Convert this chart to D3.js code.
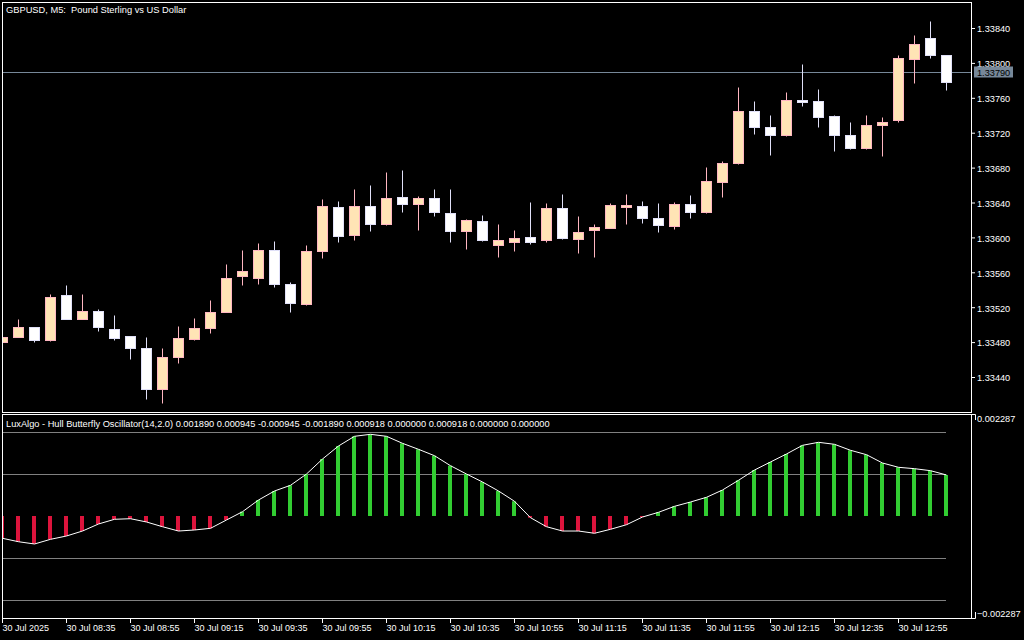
<!DOCTYPE html>
<html><head><meta charset="utf-8">
<script src="https://cdn.jsdelivr.net/npm/d3@7"></script>
<style>html,body{margin:0;padding:0;background:#000;overflow:hidden}
text{font-family:"Liberation Sans",Arial,sans-serif;font-size:9px;fill:#fff}</style>
</head><body><svg id="c" width="1024" height="640"></svg>
<script>
const times = ["08:15","08:20","08:25","08:30","08:35","08:40","08:45","08:50","08:55","09:00",
"09:05","09:10","09:15","09:20","09:25","09:30","09:35","09:40","09:45","09:50",
"09:55","10:00","10:05","10:10","10:15","10:20","10:25","10:30","10:35","10:40",
"10:45","10:50","10:55","11:00","11:05","11:10","11:15","11:20","11:25","11:30",
"11:35","11:40","11:45","11:50","11:55","12:00","12:05","12:10","12:15","12:20",
"12:25","12:30","12:35","12:40","12:45","12:50","12:55","13:00","13:05","13:10"];
const open = [1.33480,1.33486,1.33497,1.33482,1.33534,1.33507,1.33516,1.33495,1.33487,1.33473,
1.33426,1.33463,1.33484,1.33496,1.33515,1.33556,1.33554,1.33585,1.33547,1.33524,
1.33584,1.33635,1.33603,1.33636,1.33615,1.33646,1.33638,1.33645,1.33628,1.33607,
1.33619,1.33591,1.33595,1.33601,1.33597,1.33634,1.33598,1.33609,1.33611,1.33636,
1.33636,1.33622,1.33613,1.33638,1.33629,1.33664,1.33685,1.33745,1.33727,1.33717,
1.33758,1.33756,1.33739,1.33717,1.33703,1.33729,1.33734,1.33805,1.33829,1.33809];
const high = [1.33488,1.33507,1.33497,1.33535,1.33545,1.33535,1.33518,1.33511,1.33487,1.33486,
1.33473,1.33498,1.33508,1.33528,1.33569,1.33586,1.33594,1.33596,1.33549,1.33591,
1.33644,1.33642,1.33655,1.33660,1.33675,1.33677,1.33648,1.33656,1.33656,1.33621,
1.33626,1.33615,1.33608,1.33641,1.33639,1.33650,1.33625,1.33615,1.33639,1.33650,
1.33642,1.33639,1.33641,1.33649,1.33681,1.33688,1.33772,1.33756,1.33740,1.33767,
1.33799,1.33770,1.33740,1.33732,1.33740,1.33738,1.33809,1.33832,1.33848,1.33809];
const low = [1.33478,1.33486,1.33480,1.33481,1.33506,1.33506,1.33493,1.33482,1.33461,1.33415,
1.33410,1.33456,1.33482,1.33490,1.33514,1.33546,1.33547,1.33543,1.33515,1.33523,
1.33576,1.33595,1.33597,1.33607,1.33614,1.33629,1.33608,1.33625,1.33595,1.33587,
1.33596,1.33577,1.33584,1.33593,1.33595,1.33598,1.33582,1.33577,1.33611,1.33615,
1.33617,1.33606,1.33610,1.33622,1.33628,1.33646,1.33684,1.33718,1.33695,1.33716,
1.33751,1.33727,1.33699,1.33701,1.33701,1.33693,1.33732,1.33777,1.33806,1.33769];
const close = [1.33486,1.33497,1.33482,1.33532,1.33507,1.33516,1.33497,1.33485,1.33473,1.33426,
1.33463,1.33485,1.33496,1.33515,1.33554,1.33561,1.33585,1.33547,1.33525,1.33584,
1.33636,1.33602,1.33636,1.33615,1.33645,1.33638,1.33645,1.33629,1.33607,1.33620,
1.33597,1.33597,1.33599,1.33595,1.33634,1.33599,1.33606,1.33612,1.33637,1.33637,
1.33622,1.33614,1.33638,1.33629,1.33665,1.33685,1.33745,1.33726,1.33717,1.33758,
1.33756,1.33738,1.33717,1.33703,1.33729,1.33732,1.33806,1.33822,1.33809,1.33778];
const oscillator = [-0.000502,-0.000579,-0.000630,-0.000525,-0.000450,-0.000338,-0.000180,-0.000074,-0.000061,-0.000135,
-0.000241,-0.000338,-0.000315,-0.000277,-0.000090,0.000097,0.000360,0.000563,0.000691,0.000945,
0.001283,0.001576,0.001794,0.001839,0.001794,0.001636,0.001501,0.001357,0.001132,0.000945,
0.000765,0.000563,0.000331,-0.000038,-0.000241,-0.000338,-0.000338,-0.000389,-0.000299,-0.000196,
-0.000023,0.000083,0.000218,0.000315,0.000421,0.000585,0.000804,0.001035,0.001216,0.001396,
0.001591,0.001659,0.001614,0.001479,0.001380,0.001193,0.001096,0.001065,0.001020,0.000923];
const oscLevels = [0.001890, 0.000945, -0.000945, -0.001890];
const oscRange = [-0.002287, 0.002287];
const priceTicks = [1.33440,1.33480,1.33520,1.33560,1.33600,1.33640,1.33680,1.33720,1.33760,1.33800,1.33840];
const timeTicks = ["08:15","08:35","08:55","09:15","09:35","09:55","10:15","10:35","10:55","11:15","11:35","11:55","12:15","12:35","12:55"];
const dateLabel = "30 Jul";
const firstLabel = "30 Jul 2025";
const currentPrice = 1.33790;
const title = "GBPUSD, M5:  Pound Sterling vs US Dollar";
const oscTitle = "LuxAlgo - Hull Butterfly Oscillator(14,2.0) 0.001890 0.000945 -0.000945 -0.001890 0.000918 0.000000 0.000918 0.000000 0.000000";

const bars = times.map((t,i)=>({t, o:open[i], h:high[i], l:low[i], c:close[i], v:oscillator[i]}));

const svg = d3.select('#c');
svg.append('rect').attr('width',1024).attr('height',640).attr('fill','#000');

const x = d3.scalePoint().domain(times).range([2, 946]);
const yP = d3.scaleLinear().domain([1.33440, 1.33840]).range([377, 28]);
const yO = d3.scaleLinear().domain(oscRange).range([617.6, 414.4]);
const px = t => x(t) + 0.5;
const py = v => Math.round(yP(v)) + 0.5;

const defs = svg.append('defs');
defs.append('clipPath').attr('id','cm').append('rect').attr('x',3).attr('y',3).attr('width',968).attr('height',409);
defs.append('clipPath').attr('id','co').append('rect').attr('x',3).attr('y',415).attr('width',968).attr('height',203);

// main panel
const gm = svg.append('g').attr('clip-path','url(#cm)');
gm.append('line').attr('x1',3).attr('x2',971).attr('y1',py(currentPrice)).attr('y2',py(currentPrice))
  .attr('stroke','#778899').attr('stroke-width',1);

const bull = {fill:'#FFE4B5', stroke:'#FFB6C1'};
const bear = {fill:'#FFFFFF', stroke:'#E0E0F8'};
const cg = gm.selectAll('g.cd').data(bars).enter().append('g').attr('class','cd');
cg.append('line')
  .attr('x1',d=>px(d.t)).attr('x2',d=>px(d.t))
  .attr('y1',d=>py(d.h)).attr('y2',d=>py(d.l))
  .attr('stroke',d=>(d.c>=d.o?bull:bear).stroke).attr('stroke-width',1);
cg.append('rect')
  .attr('x',d=>px(d.t)-5).attr('width',10)
  .attr('y',d=>py(Math.max(d.o,d.c)))
  .attr('height',d=>Math.max(py(Math.min(d.o,d.c))-py(Math.max(d.o,d.c)),2))
  .attr('fill',d=>(d.c>=d.o?bull:bear).fill)
  .attr('stroke',d=>(d.c>=d.o?bull:bear).stroke).attr('stroke-width',1);

// oscillator panel
const go = svg.append('g').attr('clip-path','url(#co)');
go.selectAll('line.lv').data(oscLevels).enter().append('line').attr('class','lv')
  .attr('x1',3).attr('x2',946)
  .attr('y1',d=>Math.round(yO(d))+0.5).attr('y2',d=>Math.round(yO(d))+0.5)
  .attr('stroke','#808080').attr('stroke-width',1);
go.selectAll('rect.hb').data(bars).enter().append('rect').attr('class','hb')
  .attr('x',d=>px(d.t)-2.5).attr('width',4)
  .attr('y',d=>Math.min(yO(0),yO(d.v)))
  .attr('height',d=>Math.abs(yO(d.v)-yO(0)))
  .attr('fill',d=>d.v>=0?'#32CD32':'#DC143C');
go.append('path').datum(bars)
  .attr('d', d3.line().x(d=>px(d.t)).y(d=>yO(d.v)))
  .attr('fill','none').attr('stroke','#fff').attr('stroke-width',1);

// frames
svg.append('rect').attr('x',2.5).attr('y',2.5).attr('width',969).attr('height',410)
  .attr('fill','none').attr('stroke','#fff').attr('stroke-width',1);
svg.append('rect').attr('x',2.5).attr('y',414.5).attr('width',969).attr('height',204)
  .attr('fill','none').attr('stroke','#fff').attr('stroke-width',1);

// price axis
const pa = svg.append('g').attr('transform','translate(971,0)')
  .call(d3.axisRight(yP).tickValues(priceTicks).tickSize(4).tickFormat(d3.format('.5f')));
pa.select('.domain').remove();
pa.selectAll('.tick line').attr('stroke','#fff');
pa.selectAll('.tick text').attr('x',6).attr('dy','0.42em').style('font-size','9.2px').style('font-family','"Liberation Sans",Arial,sans-serif').attr('fill','#fff');

// current price label
svg.append('rect').attr('x',974).attr('y',py(currentPrice)-6).attr('width',39).attr('height',11).attr('fill','#778899');
svg.append('text').attr('x',977).attr('y',py(currentPrice)+3.5).style('font-size','9.2px').text(d3.format('.5f')(currentPrice)).style('fill','#000');

// oscillator axis labels
const ot = yO(oscRange[1]), ob = yO(oscRange[0]);
svg.append('path').attr('d',`M971,${Math.round(ot)+0.5}H975.5V${Math.round(ot)+6}`).attr('stroke','#fff').attr('fill','none');
svg.append('path').attr('d',`M975.5,${Math.round(ob)-6}V${Math.round(ob)+0.5}H971`).attr('stroke','#fff').attr('fill','none');
svg.append('text').attr('x',977).attr('y',ot+8).style('font-size','9.2px').text(d3.format('.6f')(oscRange[1]));
svg.append('text').attr('x',977).attr('y',ob-0.5).style('font-size','9.2px').text(d3.format('.6f')(oscRange[0]));

// time axis
const ta = svg.append('g').attr('transform','translate(0,618)')
  .call(d3.axisBottom(x).tickValues(timeTicks).tickSize(5)
    .tickFormat((d,i)=> i===0 ? firstLabel : dateLabel + ' ' + d));
ta.select('.domain').remove();
ta.selectAll('.tick line').attr('stroke','#fff');
ta.selectAll('.tick text').attr('text-anchor','start').attr('x',0).attr('y',7).attr('dy','0.72em')
  .style('font-size','9px').style('font-family','"Liberation Sans",Arial,sans-serif').attr('fill','#fff');

// titles
svg.append('text').attr('x',6).attr('y',13).style('white-space','pre').style('font-size','9.3px').text(title);
svg.append('text').attr('x',6).attr('y',427).style('white-space','pre').style('font-size','9.25px').text(oscTitle);
</script></body></html>
